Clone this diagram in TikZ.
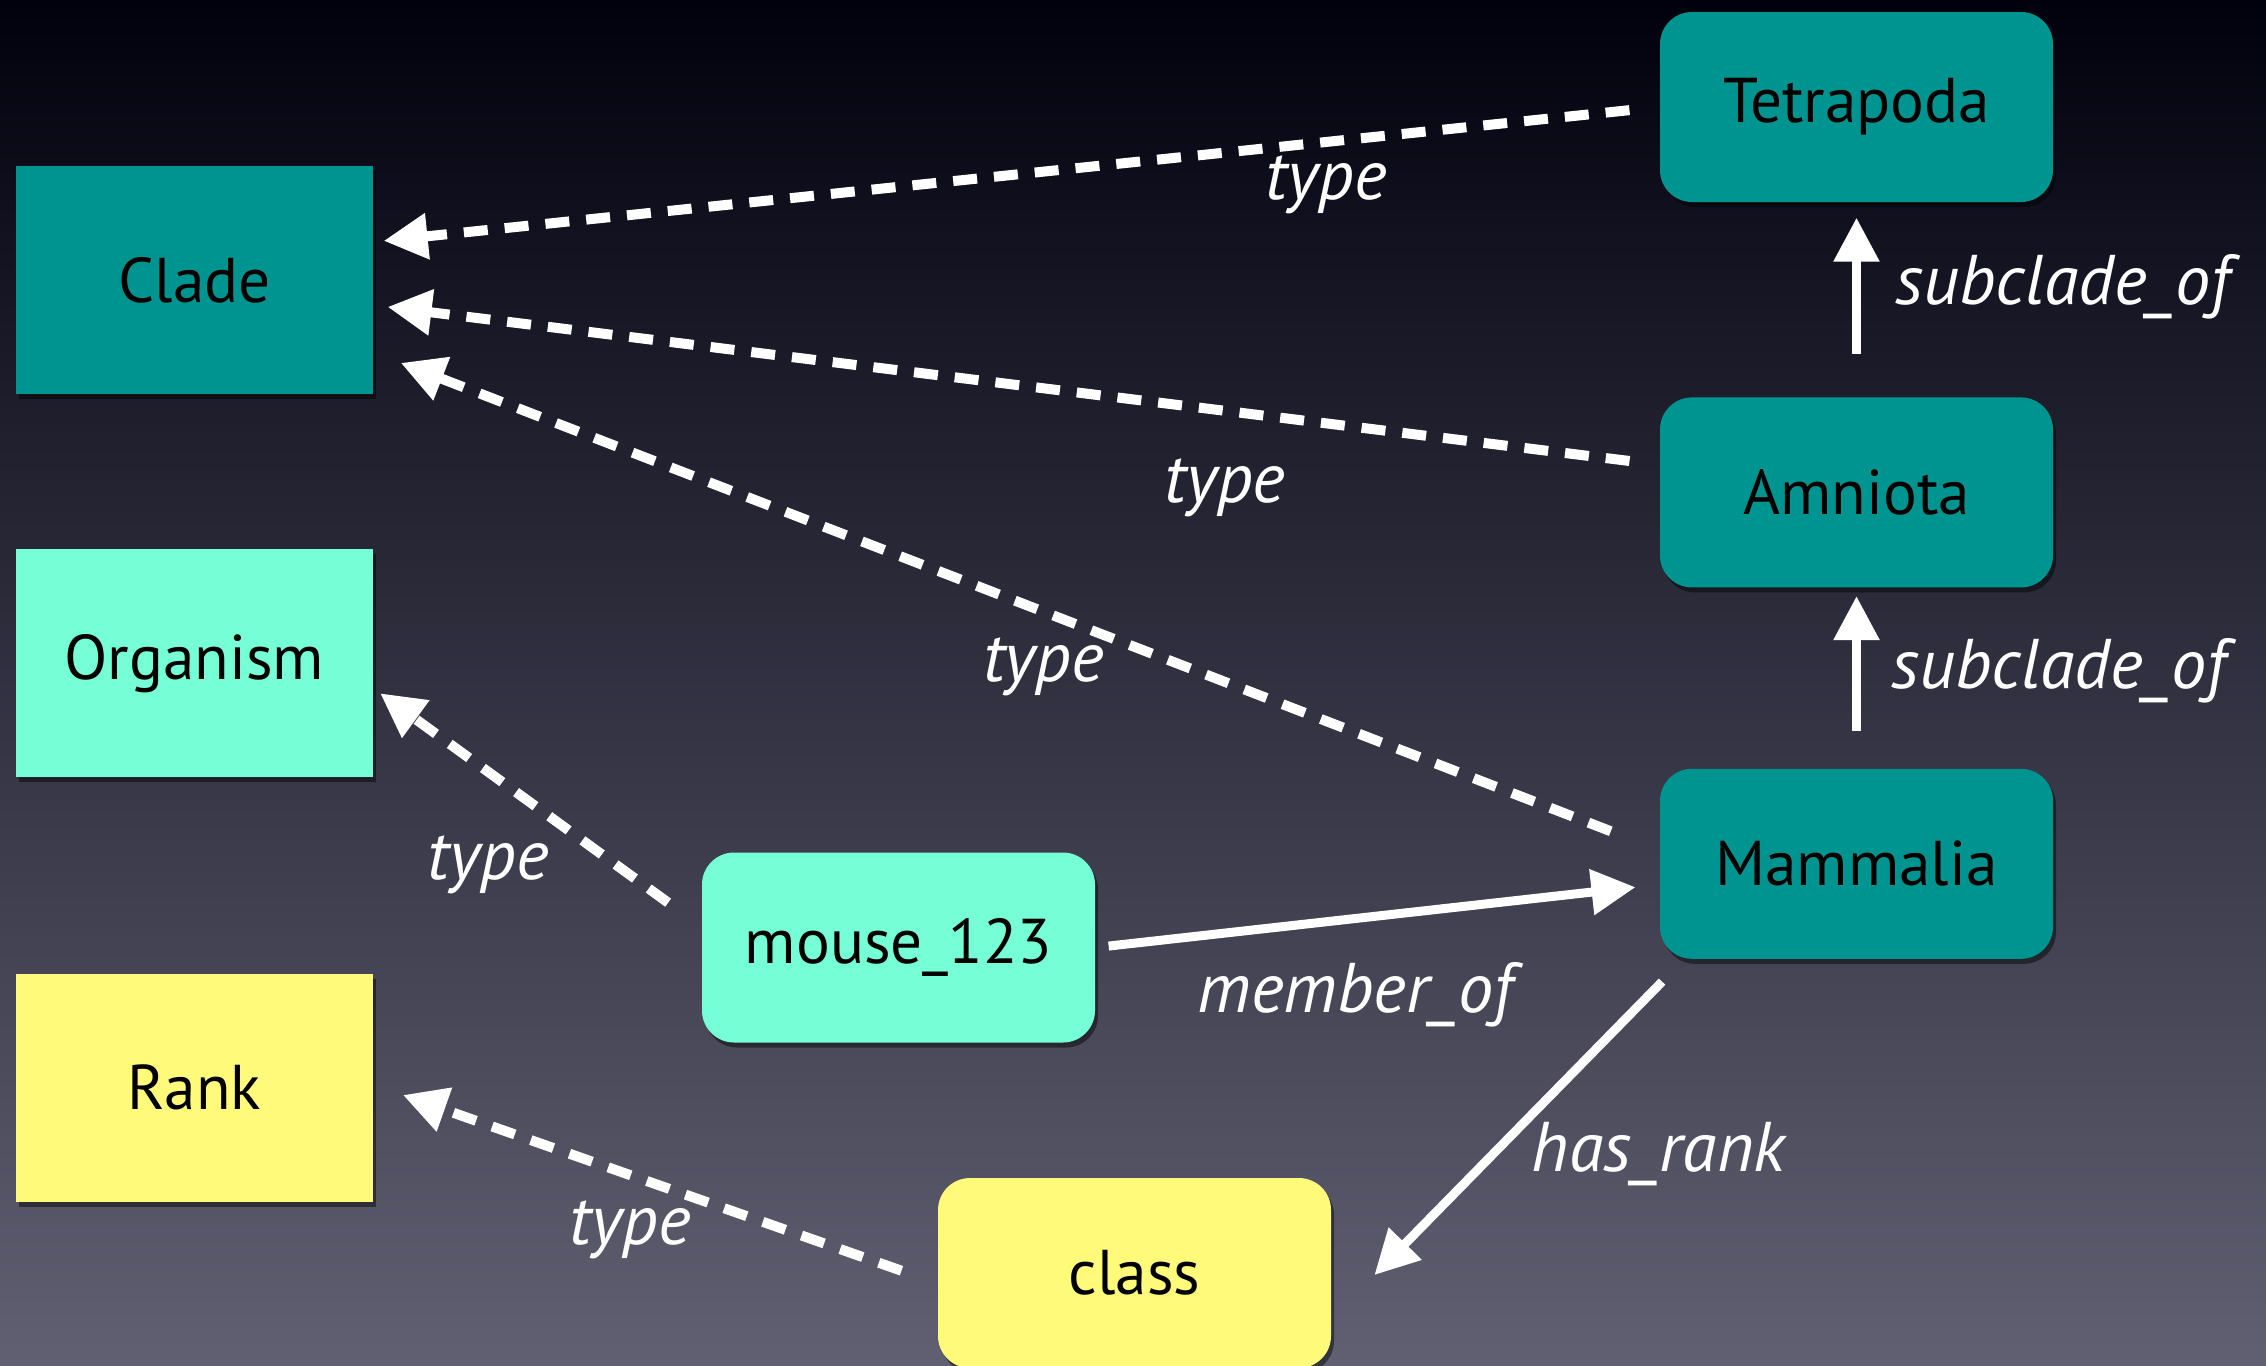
\documentclass[tikz,border=0pt]{standalone}
\usepackage{fontspec}
\setmainfont{PT Sans}
\usepackage{xcolor}
\usepackage{tikz}
\usetikzlibrary{arrows.meta, positioning, shadows}
\definecolor{cladeteal}{RGB}{0,148,144}
\definecolor{mint}{RGB}{118,255,214}
\definecolor{rankyellow}{RGB}{255,250,122}
\definecolor{bgtop}{RGB}{1,1,14}
\definecolor{bgmid}{RGB}{40,40,60}
\definecolor{bgbottom}{RGB}{96,96,114}
\tikzstyle{category} = [rectangle, minimum width=3.57cm, minimum height=2.28cm, align=center, font=\fontsize{18}{22}\selectfont, drop shadow={shadow xshift=0.03cm, shadow yshift=-0.05cm, opacity=0.45, fill=black}]
\tikzstyle{instance} = [rectangle, rounded corners=0.32cm, minimum width=3.93cm, minimum height=1.9cm, align=center, font=\fontsize{18}{22}\selectfont, drop shadow={shadow xshift=0.03cm, shadow yshift=-0.05cm, opacity=0.45, fill=black}]
\tikzstyle{typearrow} = [-{Triangle[length=0.44cm, width=0.44cm]}, white, line width=0.1cm, dash pattern=on 0.24cm off 0.17cm]
\tikzstyle{relarrow} = [-{Triangle[length=0.44cm, width=0.44cm]}, white, line width=0.09cm]
\tikzstyle{edgelabel} = [text=white, font=\fontsize{20}{24}\selectfont\itshape, inner sep=0pt]

\begin{document}
\begin{tikzpicture}

% background
\useasboundingbox (0,0) rectangle (22.66,-13.65);
\shade[top color=bgtop, middle color=bgmid, bottom color=bgbottom] (0,0) rectangle (22.66,-13.65);

% Left column: the kinds
\node[category, fill=cladeteal] (clade) at (1.945,-2.80) {Clade};
\node[category, fill=mint, below=1.54cm of clade] (organism) {Organism};
\node[category, fill=rankyellow, below=1.95cm of organism] (rank) {Rank};

% Right column: the clades
\node[instance, fill=cladeteal] (tetra) at (18.565,-1.07) {Tetrapoda};
\node[instance, fill=cladeteal, below=1.94cm of tetra] (amniota) {Amniota};
\node[instance, fill=cladeteal, below=1.80cm of amniota] (mammalia) {Mammalia};

% Bottom: the individuals
\node[instance, fill=mint] (mouse) at (8.985,-9.475) {mouse\_123};
\node[instance, fill=rankyellow] (class) at (11.345,-12.73) {class};

% type links (dashed)
\draw[typearrow, shorten <=0.3cm, shorten >=0.1cm] (tetra.west) -- (clade.12) node[edgelabel, pos=0.259, yshift=-0.43cm] (type1) {type};
\draw[typearrow, shorten <=0.3cm, shorten >=0.14cm] (amniota.172) -- (clade.-8) node[edgelabel, pos=0.338, yshift=-0.77cm] (type2) {type};
\draw[typearrow, shorten <=0.52cm, shorten >=0.29cm] (mammalia.176) -- (clade.-22) node[edgelabel, pos=0.479, yshift=-0.55cm] (type3) {type};
\draw[typearrow, shorten <=0.41cm, shorten >=0.08cm] (mouse.174) -- (organism.-8) node[edgelabel, pos=0.650, yshift=-0.93cm] (type4) {type};
\draw[typearrow, shorten <=0.38cm, shorten >=0.31cm] (class.183) -- (rank.1) node[edgelabel, pos=0.545, yshift=-0.55cm] (type5) {type};

% relations (solid)
\draw[relarrow, shorten <=0.13cm, shorten >=0.24cm] (mouse.east) -- (mammalia.186) node[edgelabel, pos=0.46, yshift=-0.76cm] (memberof) {member\_of};
\draw[relarrow, shorten <=0.31cm, shorten >=0.61cm] (mammalia.209) -- (class.-13) node[edgelabel, pos=0.543, xshift=1.66cm] (hasrank) {has\_rank};
\draw[relarrow, shorten <=0.43cm, shorten >=0.15cm] (amniota.north) -- (tetra.south) node[edgelabel, pos=0.567, xshift=2.06cm] (subclade1) {subclade\_of};
\draw[relarrow, shorten <=0.37cm, shorten >=0.08cm] (mammalia.north) -- (amniota.south) node[edgelabel, pos=0.539, xshift=2.02cm] (subclade2) {subclade\_of};

\end{tikzpicture}
\end{document}
